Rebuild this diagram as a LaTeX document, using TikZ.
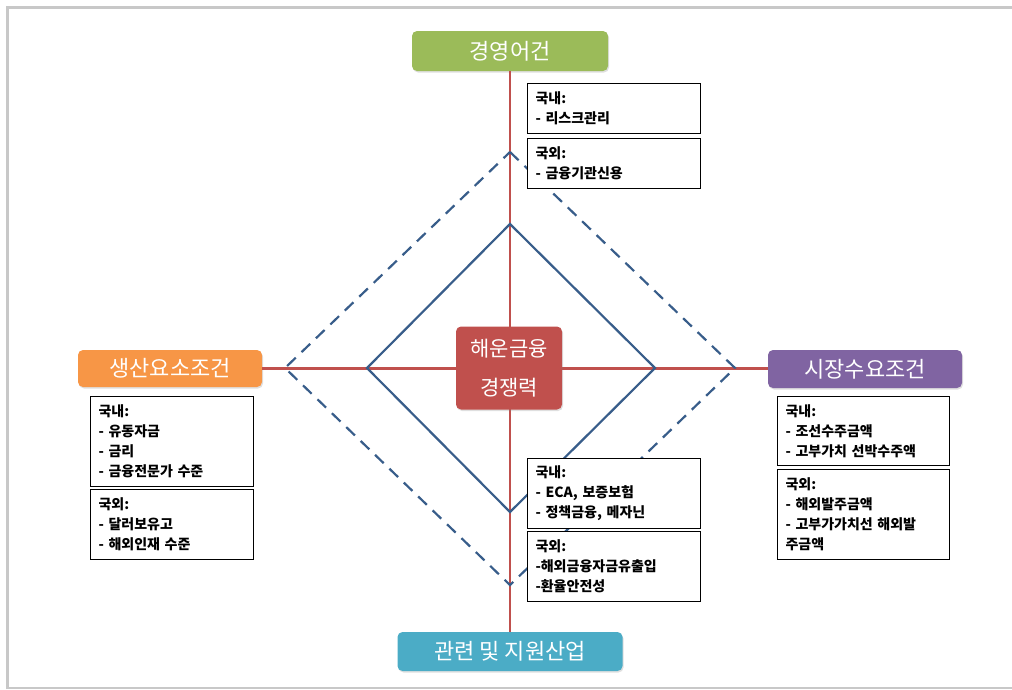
\documentclass[tikz,border=0pt]{standalone}
\usepackage{fontspec}
\setmainfont{Noto Sans CJK KR}
\usetikzlibrary{shadows}
\definecolor{cgreen}{HTML}{9BBB59}
\definecolor{corange}{HTML}{F79646}
\definecolor{cpurple}{HTML}{8064A2}
\definecolor{cteal}{HTML}{4BACC6}
\definecolor{cred}{HTML}{C0504D}
\definecolor{dblue}{HTML}{385D8A}
\definecolor{frame}{HTML}{C8C8C8}
\begin{document}
\begin{tikzpicture}[x=1pt,y=-1pt,
  lab/.style={rounded corners=5pt, text=white, font=\fontsize{22}{24}\selectfont, inner sep=0pt,
    drop shadow={opacity=0.25, shadow xshift=1pt, shadow yshift=-1.5pt}},
  info/.style={draw=black, line width=1pt, fill=white, anchor=north west, align=left,
    inner xsep=8pt, inner ysep=0pt, font=\fontsize{14}{20}\selectfont\bfseries},
  axisline/.style={draw=cred, line width=2.5pt},
  soliddia/.style={draw=dblue, line width=2.2pt, line join=miter},
  dashdia/.style={draw=dblue, line width=2.2pt, dash pattern=on 12pt off 8pt}]
\useasboundingbox (0,0) rectangle (1012,689);
% frame
\draw[frame, line width=3pt] (7.5,689) -- (7.5,7) -- (1012,7);
\draw[frame, line width=1.2pt] (7.5,688) -- (1012,688);

% category boxes
\node[lab, fill=cgreen, minimum width=196pt, minimum height=40pt] (top) at (510,51) {경영어건};
\node[lab, fill=corange, minimum width=184pt, minimum height=37pt] (left) at (170,368.5) {생산요소조건};
\node[lab, fill=cpurple, minimum width=194pt, minimum height=38pt] (right) at (865,369) {시장수요조건};
\node[lab, fill=cteal, minimum width=225pt, minimum height=39pt] (bottom) at (510,651.5) {관련 및 지원산업};

% axes
\draw[axisline] (top.south) -- (top.south |- bottom.north);
\draw[axisline] (left.east) -- (left.east -| right.west);

% diamonds
\coordinate (s1) at (510,224);
\coordinate (s2) at (655,368);
\coordinate (s3) at (510,512);
\coordinate (s4) at (367,368);
\draw[soliddia] (s1) -- (s2) -- (s3) -- (s4) -- cycle;
\coordinate (d1) at (510,152);
\coordinate (d2) at (735,368);
\coordinate (d3) at (510,585);
\coordinate (d4) at (285,368);
\draw[dashdia] (d1) -- (d2) -- (d3) -- (d4) -- cycle;

% centre
\node[lab, fill=cred, minimum width=106pt, minimum height=83pt, align=center,
  font=\fontsize{21}{39}\selectfont] (core) at (509,368) {해운금융\\경쟁력};

% info boxes
\node[info, text width=157pt, minimum height=50pt] (t1) at (527,83) {국내:\\- 리스크관리};
\node[info, text width=157pt, minimum height=50pt] (t2) at (527,138) {국외:\\- 금융기관신용};
\node[info, text width=147pt, minimum height=90pt] (l1) at (90,396) {국내:\\- 유동자금\\- 금리\\- 금융전문가 수준};
\node[info, text width=147pt, minimum height=70pt] (l2) at (90,489) {국외:\\- 달러보유고\\- 해외인재 수준};
\node[info, text width=156pt, minimum height=69pt] (r1) at (777,396) {국내:\\- 조선수주금액\\- 고부가치 선박수주액};
\node[info, text width=156pt, minimum height=90pt] (r2) at (777,469) {국외:\\- 해외발주금액\\- 고부가가치선 해외발\\주금액};
\node[info, text width=157pt, minimum height=70pt] (b1) at (527,458) {국내:\\- ECA, 보증보험\\- 정책금융, 메자닌};
\node[info, text width=157pt, minimum height=70pt] (b2) at (527,531) {국외:\\-해외금융자금유출입\\-환율안전성};
\end{tikzpicture}
\end{document}
